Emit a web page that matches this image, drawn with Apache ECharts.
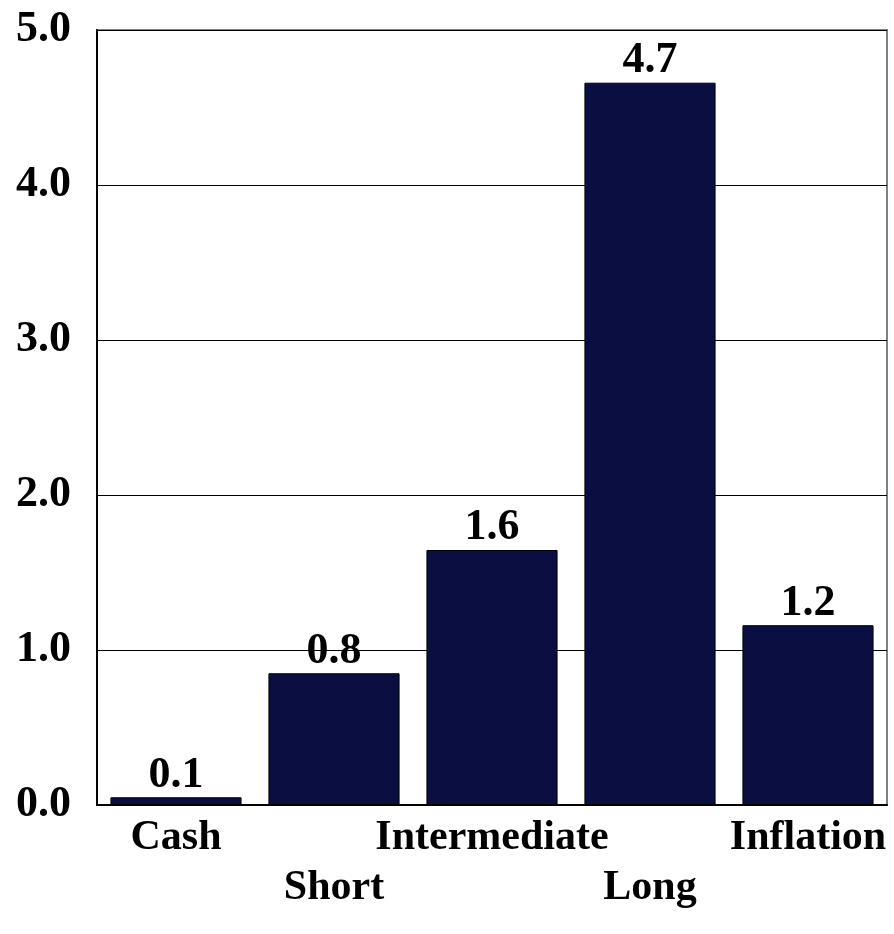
<!DOCTYPE html>
<html><head><meta charset="utf-8">
<script src="https://cdn.jsdelivr.net/npm/echarts@6/dist/echarts.min.js"></script>
<style>html,body{margin:0;padding:0;background:#fff}#c{width:894px;height:934px}</style>
</head><body><div id="c"></div>
<script>
const categories = ['Cash', 'Short', 'Intermediate', 'Long', 'Inflation'];
const values = [0.05, 0.85, 1.645, 4.66, 1.16];
const valueLabels = ['0.1', '0.8', '1.6', '4.7', '1.2'];
const yTicks = [0, 1, 2, 3, 4, 5];

const FONT = '"Liberation Serif", "DejaVu Serif", serif';
const chart = echarts.init(document.getElementById('c'), null, {renderer: 'canvas'});
chart.setOption({
  animation: false,
  backgroundColor: '#fff',
  grid: {left: 97, right: 7, top: 30, bottom: 129, show: true, borderColor: '#808080', borderWidth: 2},
  xAxis: {
    type: 'category', data: categories,
    axisLine: {lineStyle: {color: '#000', width: 2}},
    axisTick: {show: false},
    axisLabel: {
      interval: 0, margin: 8, color: '#000', fontFamily: FONT, fontWeight: 'bold', fontSize: 42,
      lineHeight: 50,
      formatter: (v, i) => (i % 2 === 1 ? '\n' + v : v)
    }
  },
  yAxis: {
    type: 'value', min: yTicks[0], max: yTicks[yTicks.length - 1], interval: 1,
    axisLine: {show: true, lineStyle: {color: '#000', width: 2}},
    axisTick: {show: false},
    splitLine: {show: true, lineStyle: {color: '#000', width: 1}},
    axisLabel: {margin: 26, color: '#000', fontFamily: FONT, fontWeight: 'bold', fontSize: 44,
      formatter: v => v.toFixed(1)}
  },
  series: [{
    type: 'bar', data: values, barCategoryGap: '17%',
    itemStyle: {color: '#0b0e40', borderColor: '#000', borderWidth: 1},
    label: {show: true, position: 'top', distance: 0, color: '#000', fontFamily: FONT,
      fontWeight: 'bold', fontSize: 44, formatter: p => valueLabels[p.dataIndex]}
  }]
});
</script></body></html>
